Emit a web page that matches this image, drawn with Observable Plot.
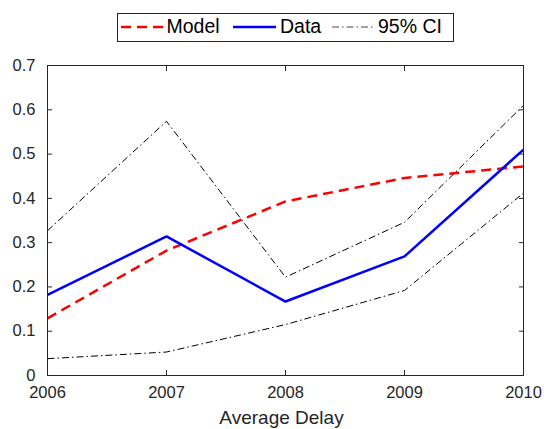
<!DOCTYPE html>
<html>
<head>
<meta charset="utf-8">
<script src="https://cdn.jsdelivr.net/npm/d3@7"></script>
<script src="https://cdn.jsdelivr.net/npm/@observablehq/plot@0.6"></script>
<style>
  html, body { margin: 0; padding: 0; background: white; }
  #wrap { width: 544px; height: 429px; position: relative; font-family: "Liberation Sans", Arial, sans-serif; }
  #legend { position: relative; width: 544px; height: 50px; }
  #legend .box { position: absolute; left: 116.5px; top: 12.5px; width: 337px; height: 29px; box-sizing: border-box; border: 1px solid #262626; background: white; }
  #legend .lbl { position: absolute; font-size: 19.5px; line-height: 19.5px; top: 16.5px; color: #000; white-space: nowrap; }
  #legend svg.sample { position: absolute; top: 22px; height: 10px; overflow: visible; }
  #chart svg { display: block; }
</style>
</head>
<body>
<div id="wrap">
  <div id="legend"></div>
  <div id="chart"></div>
</div>
<script>
// ---- data ----
const years = [2006, 2007, 2008, 2009, 2010];
const modelValues = [0.129, 0.282, 0.393, 0.446, 0.472];
const dataValues = [0.182, 0.314, 0.167, 0.269, 0.510];
const ciUpper = [0.327, 0.574, 0.222, 0.346, 0.610];
const ciLower = [0.038, 0.053, 0.115, 0.192, 0.412];
const yTicks = [0, 0.1, 0.2, 0.3, 0.4, 0.5, 0.6, 0.7];
const seriesNames = ["Model", "Data", "95% CI"];
const xLabel = "Average Delay";

// ---- styles ----
const styles = {
  "Model": {stroke: "#ff0000", strokeWidth: 2.5, strokeDasharray: "10,6"},
  "Data": {stroke: "#0000ff", strokeWidth: 2.5, strokeDasharray: null},
  "95% CI": {stroke: "#000000", strokeWidth: 1, strokeDasharray: "7,3,1.5,3"}
};

const toRows = (vals) => years.map((y, i) => ({year: y, value: vals[i]}));
const modelRows = toRows(modelValues);
const dataRows = toRows(dataValues);
const upperRows = toRows(ciUpper);
const lowerRows = toRows(ciLower);

const lineOpts = (name) => ({x: "year", y: "value", ...styles[name], strokeLinejoin: "miter", strokeLinecap: "butt"});

const chart = Plot.plot({
  width: 544,
  height: 379,
  marginLeft: 47,
  marginRight: 21,
  marginTop: 15,
  marginBottom: 54,
  style: {fontFamily: "'Liberation Sans', Arial, sans-serif", fontSize: "16.5px", color: "#262626", background: "white", overflow: "visible"},
  x: {domain: [2006, 2010]},
  y: {domain: [0, 0.7]},
  marks: [
    Plot.line(modelRows, lineOpts("Model")),
    Plot.line(dataRows, lineOpts("Data")),
    Plot.line(upperRows, lineOpts("95% CI")),
    Plot.line(lowerRows, lineOpts("95% CI")),
    Plot.frame({stroke: "#262626", strokeWidth: 1}),
    Plot.axisX(years, {anchor: "bottom", tickSize: -5, tickPadding: 16, tickFormat: d => String(d), label: null, stroke: "#262626"}),
    Plot.axisX(years, {anchor: "top", tickSize: -5, tickFormat: () => "", label: null, stroke: "#262626"}),
    Plot.axisY(yTicks, {anchor: "left", tickSize: -5, tickPadding: 17, tickFormat: d => String(+d.toFixed(1)), label: null, stroke: "#262626"}),
    Plot.axisY(yTicks, {anchor: "right", tickSize: -5, tickFormat: () => "", label: null, stroke: "#262626"}),
    Plot.text([xLabel], {text: d => d, frameAnchor: "bottom", dy: 48, dx: -4, lineAnchor: "bottom", fontSize: 19, fill: "#262626"})
  ]
});
document.getElementById("chart").appendChild(chart);

// ---- legend ----
const legend = document.getElementById("legend");
const box = document.createElement("div");
box.className = "box";
legend.appendChild(box);
const layout = [
  {name: "Model", sx1: 120.5, sx2: 163, tx: 166.5},
  {name: "Data", sx1: 233, sx2: 276, tx: 280},
  {name: "95% CI", sx1: 332, sx2: 375, tx: 378}
];
const ns = "http://www.w3.org/2000/svg";
layout.forEach(item => {
  const st = styles[item.name];
  const svg = document.createElementNS(ns, "svg");
  svg.setAttribute("class", "sample");
  svg.setAttribute("width", item.sx2 - item.sx1);
  svg.style.left = item.sx1 + "px";
  const ln = document.createElementNS(ns, "line");
  ln.setAttribute("x1", 0); ln.setAttribute("x2", item.sx2 - item.sx1);
  ln.setAttribute("y1", 5); ln.setAttribute("y2", 5);
  ln.setAttribute("stroke", item.name === "95% CI" ? "#444" : st.stroke);
  ln.setAttribute("stroke-width", st.strokeWidth);
  if (st.strokeDasharray) ln.setAttribute("stroke-dasharray", st.strokeDasharray);
  svg.appendChild(ln);
  legend.appendChild(svg);
  const t = document.createElement("span");
  t.className = "lbl";
  t.style.left = item.tx + "px";
  t.textContent = item.name;
  legend.appendChild(t);
});
</script>
</body>
</html>
